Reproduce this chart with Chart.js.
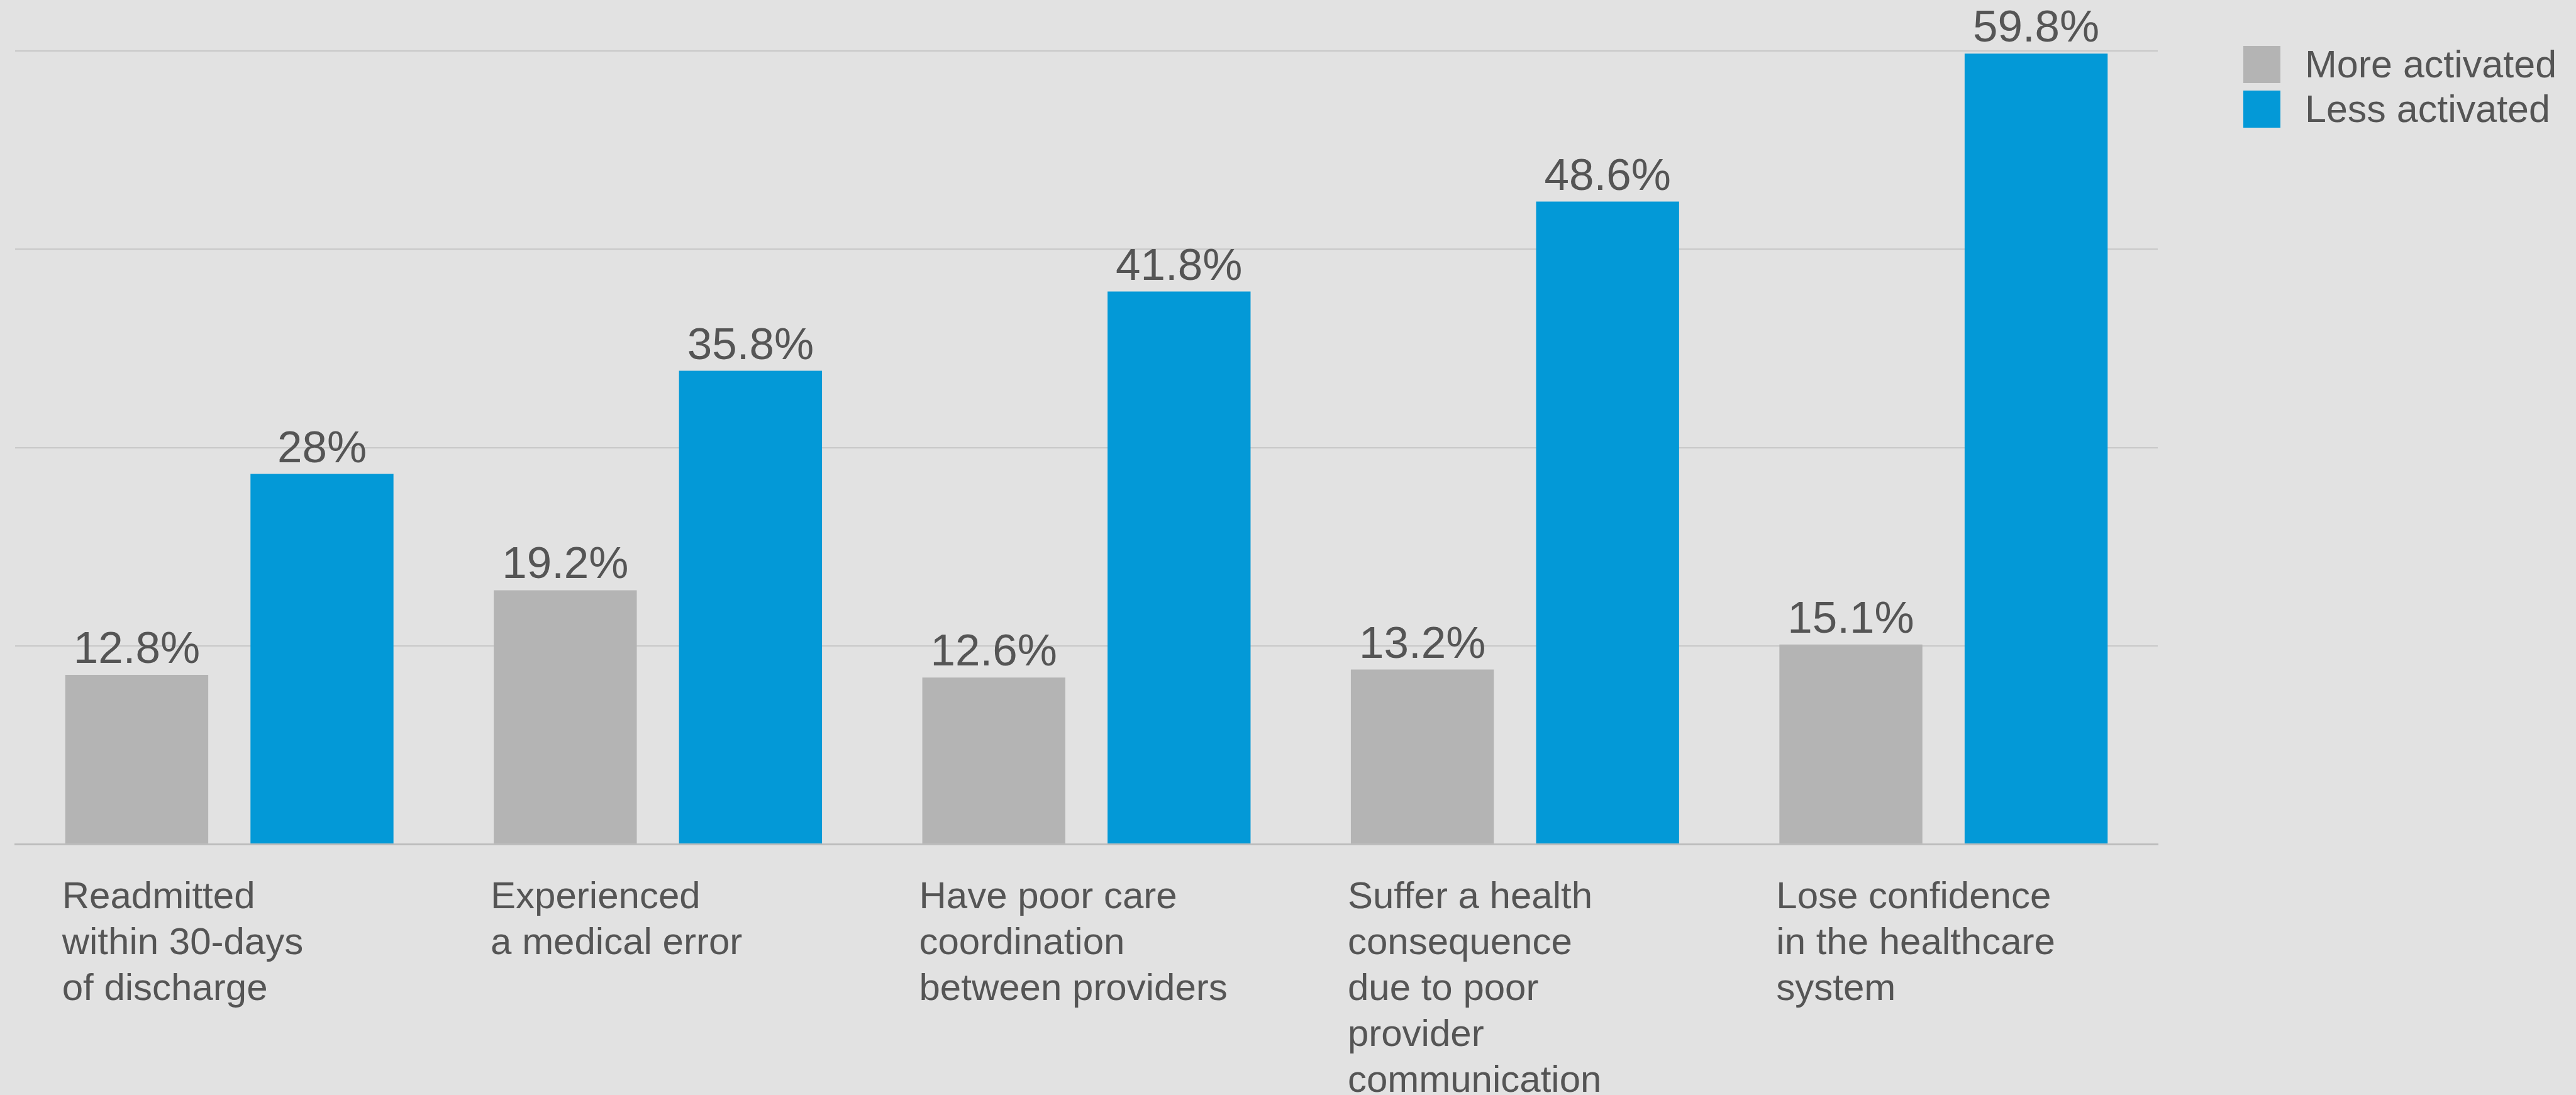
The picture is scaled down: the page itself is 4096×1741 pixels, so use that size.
<!DOCTYPE html>
<html>
<head>
<meta charset="utf-8">
<title>Patient activation and care outcomes</title>
<script src="https://cdn.jsdelivr.net/npm/chart.js@4/dist/chart.umd.min.js"></script>
<style>
  html, body { margin: 0; padding: 0; background: #e2e2e2; overflow: hidden; }
  canvas { display: block; }
</style>
</head>
<body>
<canvas id="chart" width="4096" height="1741"></canvas>
<script>
// Outcome categories (multi-line axis labels)
const categories = [
  ["Readmitted", "within 30-days", "of discharge"],
  ["Experienced", "a medical error"],
  ["Have poor care", "coordination", "between providers"],
  ["Suffer a health", "consequence", "due to poor", "provider", "communication"],
  ["Lose confidence", "in the healthcare", "system"]
];

// Share of patients (%) by activation level
const moreActivated = [12.8, 19.2, 12.6, 13.2, 15.1];
const lessActivated = [28, 35.8, 41.8, 48.6, 59.8];

const seriesNames = ["More activated", "Less activated"];
const seriesColors = ["#b4b4b4", "#0399d7"];

// Value axis range and gridline step
const yMin = 0;
const yMax = 60;
const yStep = 15;

const TEXT = "#555555";
const FONT = "'Liberation Sans', Arial, Helvetica, sans-serif";

// Paint the page-coloured background behind everything
const backgroundPlugin = {
  id: "background",
  beforeDraw(chart) {
    const ctx = chart.ctx;
    ctx.save();
    ctx.fillStyle = "#e2e2e2";
    ctx.fillRect(0, 0, chart.width, chart.height);
    ctx.restore();
  }
};

// Value labels above each bar
const valueLabelPlugin = {
  id: "valueLabels",
  afterDatasetsDraw(chart) {
    const ctx = chart.ctx;
    ctx.save();
    ctx.font = "71px " + FONT;
    ctx.fillStyle = TEXT;
    ctx.textAlign = "center";
    ctx.textBaseline = "alphabetic";
    chart.data.datasets.forEach((ds, di) => {
      const meta = chart.getDatasetMeta(di);
      meta.data.forEach((bar, i) => {
        ctx.fillText(ds.data[i] + "%", bar.x, bar.y - 19);
      });
    });
    ctx.restore();
  }
};

// Legend at the top right, built from the datasets
const sideLegendPlugin = {
  id: "sideLegend",
  afterDraw(chart) {
    const ctx = chart.ctx;
    const boxX = 3567, boxSize = 59, textX = 3665;
    const rowTops = [73, 144];
    ctx.save();
    ctx.font = "61px " + FONT;
    ctx.textAlign = "left";
    ctx.textBaseline = "middle";
    chart.data.datasets.forEach((ds, i) => {
      const top = rowTops[i];
      ctx.fillStyle = ds.backgroundColor;
      ctx.fillRect(boxX, top, boxSize, boxSize);
      ctx.fillStyle = TEXT;
      ctx.fillText(ds.label, textX, top + boxSize / 2 + 4);
    });
    ctx.restore();
  }
};

new Chart(document.getElementById("chart"), {
  type: "bar",
  data: {
    labels: categories,
    datasets: [
      {
        label: seriesNames[0],
        data: moreActivated,
        backgroundColor: seriesColors[0],
        borderWidth: 0,
        categoryPercentage: 0.8645,
        barPercentage: 0.772
      },
      {
        label: seriesNames[1],
        data: lessActivated,
        backgroundColor: seriesColors[1],
        borderWidth: 0,
        categoryPercentage: 0.8645,
        barPercentage: 0.772
      }
    ]
  },
  options: {
    responsive: false,
    devicePixelRatio: 1,
    animation: false,
    layout: {
      padding: { left: 24, right: 665, top: 81, bottom: 0 }
    },
    plugins: {
      legend: { display: false },
      tooltip: { enabled: false }
    },
    scales: {
      x: {
        grid: { display: false, drawTicks: false },
        border: { display: true, color: "#bdbdbd", width: 3 },
        ticks: {
          color: TEXT,
          font: { family: FONT, size: 60, lineHeight: 1.2167 },
          align: "start",
          labelOffset: -266,
          padding: 49,
          maxRotation: 0,
          minRotation: 0,
          autoSkip: false
        },
        afterFit(scale) {
          scale.height = 1741 - 1342;
        }
      },
      y: {
        min: yMin,
        max: yMax,
        ticks: { display: false, stepSize: yStep },
        grid: { color: "#c8c8c8", lineWidth: 2, drawTicks: false },
        border: { display: false },
        afterFit(scale) {
          scale.width = 0;
        }
      }
    }
  },
  plugins: [backgroundPlugin, valueLabelPlugin, sideLegendPlugin]
});
</script>
</body>
</html>
